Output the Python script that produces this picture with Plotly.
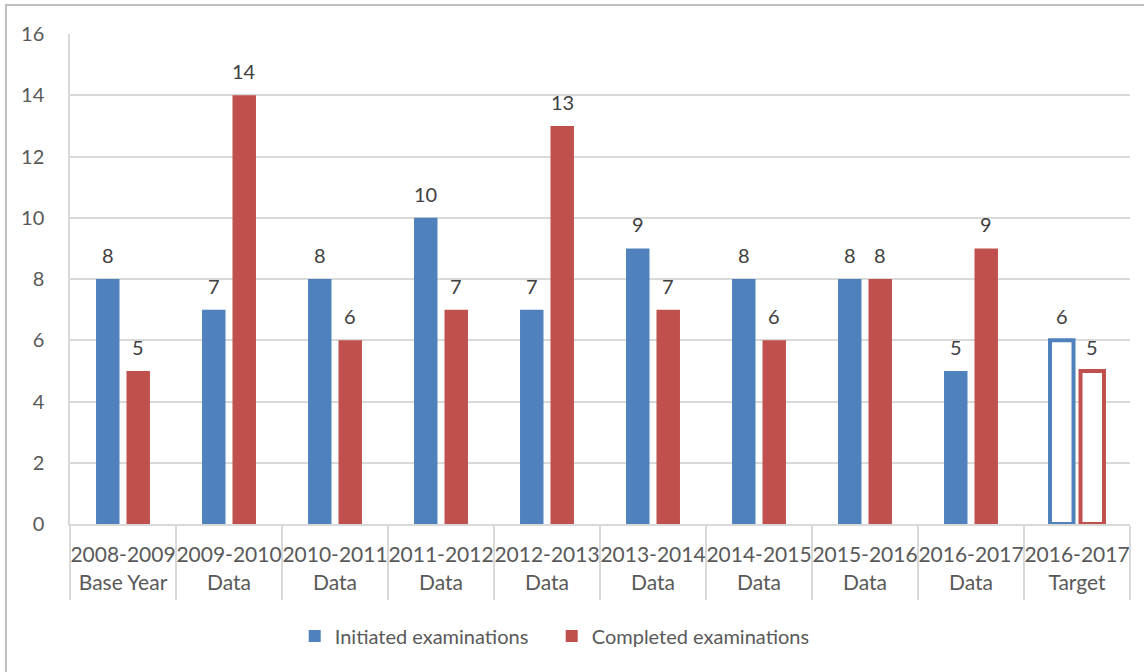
import plotly.graph_objects as go

categories = ["2008-2009<br>Base Year", "2009-2010<br>Data", "2010-2011<br>Data",
              "2011-2012<br>Data", "2012-2013<br>Data", "2013-2014<br>Data",
              "2014-2015<br>Data", "2015-2016<br>Data", "2016-2017<br>Data",
              "2016-2017<br>Target"]
initiated = [8, 7, 8, 10, 7, 9, 8, 8, 5, 6]
completed = [5, 14, 6, 7, 13, 7, 6, 8, 9, 5]
y_ticks = [0, 2, 4, 6, 8, 10, 12, 14, 16]

BLUE = "#4f81bd"
RED = "#c0504d"
FONT = "Lato"

def fills(color):
    return [color] * (len(categories) - 1) + ["white"]

def line_widths():
    return [0] * (len(categories) - 1) + [4]

fig = go.Figure()
fig.add_trace(go.Bar(
    name="Initiated examinations", x=categories, y=initiated,
    marker=dict(color=fills(BLUE), line=dict(color=BLUE, width=line_widths())),
))
fig.add_trace(go.Bar(
    name="Completed examinations", x=categories, y=completed,
    marker=dict(color=fills(RED), line=dict(color=RED, width=line_widths())),
))

slot_shift = 15.3
for series, sign in ((initiated, -1), (completed, 1)):
    for cat, val in zip(categories, series):
        fig.add_annotation(x=cat, y=val, text=str(val), showarrow=False,
                           yanchor="bottom", yshift=10, xshift=sign * slot_shift,
                           font=dict(family=FONT, size=20, color="#404040"))

fig.add_shape(type="rect", xref="paper", yref="paper",
              x0=-0.0604, x1=1.05, y0=1.0592, y1=-0.4,
              line=dict(color="#bfbfbf", width=2), fillcolor="rgba(0,0,0,0)", layer="below")

fig.update_layout(
    width=1144, height=672,
    margin=dict(l=70, r=14, t=34, b=148),
    paper_bgcolor="white", plot_bgcolor="white",
    barmode="group", bargap=0.425, bargroupgap=0.23,
    font=dict(family=FONT, size=20, color="#595959"),
    showlegend=True,
    legend=dict(orientation="h", x=0.212, xanchor="left", y=-0.2286, yanchor="middle",
                font=dict(family=FONT, size=20, color="#595959"),
                entrywidth=212, entrywidthmode="pixels"),
    xaxis=dict(showline=True, linecolor="#d9d9d9", linewidth=2,
               ticks="outside", tickson="boundaries", ticklen=74,
               tickcolor="#d9d9d9", tickwidth=2, ticklabelstandoff=11,
               tickangle=0,
               tickfont=dict(family=FONT, size=21, color="#595959")),
    yaxis=dict(range=[0, 16], tickvals=y_ticks, showgrid=True, gridcolor="#d9d9d9",
               gridwidth=1.5, showline=True, linecolor="#d9d9d9", linewidth=1.5,
               ticks="", ticklabelstandoff=20, zeroline=False,
               tickfont=dict(family=FONT, size=20, color="#595959")),
)

fig.write_html("out.html")
